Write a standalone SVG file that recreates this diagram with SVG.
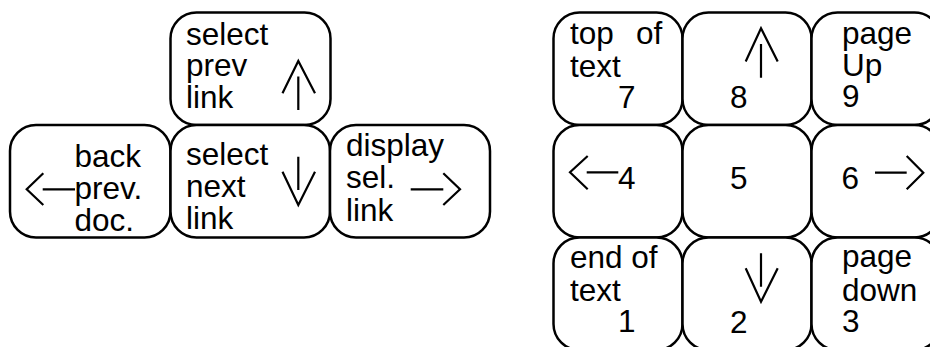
<svg xmlns="http://www.w3.org/2000/svg" width="930" height="347" viewBox="0 0 930 347">
  <style>
    .key { fill: #ffffff; stroke: #000000; stroke-width: 2.5; }
    .lbl { font-family: "Liberation Sans", Arial, sans-serif; font-size: 31.5px; fill: #000000; }
    .arr { fill: none; stroke: #000000; stroke-width: 2.2; stroke-linecap: butt; stroke-linejoin: miter; }
  </style>
  <rect width="930" height="347" fill="#ffffff"/>

  <!-- Browser navigation keys -->
  <g id="key-prev-link">
    <rect class="key" x="170.5" y="12.5" width="160" height="112.5" rx="26"/>
    <text class="lbl"><tspan x="186" y="44.5">select</tspan><tspan x="186" y="76">prev</tspan><tspan x="186" y="107.5">link</tspan></text>
    <path class="arr" d="M282.5 93.3 L298.3 61 L315 93.3 M298.3 76.5 V110"/>
  </g>
  <g id="key-back">
    <rect class="key" x="10" y="125" width="160.5" height="112.5" rx="26"/>
    <text class="lbl"><tspan x="74.5" y="166.5">back</tspan><tspan x="74.5" y="199">prev.</tspan><tspan x="74.5" y="231">doc.</tspan></text>
    <path class="arr" d="M43.3 173.3 L26.7 189.3 L43.3 205 M42.7 189.3 H75"/>
  </g>
  <g id="key-next-link">
    <rect class="key" x="170.5" y="125" width="159.5" height="112.5" rx="26"/>
    <text class="lbl"><tspan x="186" y="165">select</tspan><tspan x="186" y="197">next</tspan><tspan x="186" y="229">link</tspan></text>
    <path class="arr" d="M282.5 171.7 L298.3 205 L315 171.7 M298.3 156.7 V190"/>
  </g>
  <g id="key-display">
    <rect class="key" x="330" y="125" width="160" height="112.5" rx="26"/>
    <text class="lbl"><tspan x="346" y="156">display</tspan><tspan x="346" y="188">sel.</tspan><tspan x="346" y="220.5">link</tspan></text>
    <path class="arr" d="M443.3 173.3 L460 189.3 L443.3 205 M410.7 189.3 H443.3"/>
  </g>

  <!-- Numeric keypad -->
  <g id="key-7">
    <rect class="key" x="553.5" y="12.5" width="129" height="112.5" rx="26"/>
    <text class="lbl"><tspan x="570" y="44">top</tspan><tspan x="636" y="44">of</tspan><tspan x="570" y="76.5">text</tspan><tspan x="618" y="108">7</tspan></text>
  </g>
  <g id="key-8">
    <rect class="key" x="682.5" y="12.5" width="129" height="112.5" rx="26"/>
    <text class="lbl" x="730" y="108">8</text>
    <path class="arr" d="M745.7 61.5 L761 28.3 L777.7 61.5 M761 44 V77.7"/>
  </g>
  <g id="key-9">
    <rect class="key" x="811.5" y="12.5" width="129" height="112.5" rx="26"/>
    <text class="lbl"><tspan x="842" y="43.5">page</tspan><tspan x="842" y="76">Up</tspan><tspan x="842" y="107">9</tspan></text>
  </g>
  <g id="key-4">
    <rect class="key" x="553.5" y="125" width="129" height="112.5" rx="26"/>
    <text class="lbl" x="618" y="189.3">4</text>
    <path class="arr" d="M587.7 156 L570 172.3 L587.7 189.3 M586.7 172.3 H618.3"/>
  </g>
  <g id="key-5">
    <rect class="key" x="682.5" y="125" width="129" height="112.5" rx="26"/>
    <text class="lbl" x="730" y="189">5</text>
  </g>
  <g id="key-6">
    <rect class="key" x="811.5" y="125" width="129" height="112.5" rx="26"/>
    <text class="lbl" x="841.5" y="189">6</text>
    <path class="arr" d="M906.7 156 L923.3 172.7 L906.7 189.3 M875 172.7 H906.7"/>
  </g>
  <g id="key-1">
    <rect class="key" x="553.5" y="237.5" width="129" height="112.5" rx="26"/>
    <text class="lbl"><tspan x="570" y="267.5">end of</tspan><tspan x="570" y="300.5">text</tspan><tspan x="618" y="331.5">1</tspan></text>
  </g>
  <g id="key-2">
    <rect class="key" x="682.5" y="237.5" width="129" height="112.5" rx="26"/>
    <text class="lbl" x="730" y="333">2</text>
    <path class="arr" d="M745.7 268.3 L761 301.7 L777.7 268.3 M761 253.3 V286.7"/>
  </g>
  <g id="key-3">
    <rect class="key" x="811.5" y="237.5" width="129" height="112.5" rx="26"/>
    <text class="lbl"><tspan x="842" y="267">page</tspan><tspan x="842" y="300.5">down</tspan><tspan x="842" y="331.5">3</tspan></text>
  </g>

  <!-- no connectors: arrows above are key legends -->
  <g id="connectors"/>
</svg>
